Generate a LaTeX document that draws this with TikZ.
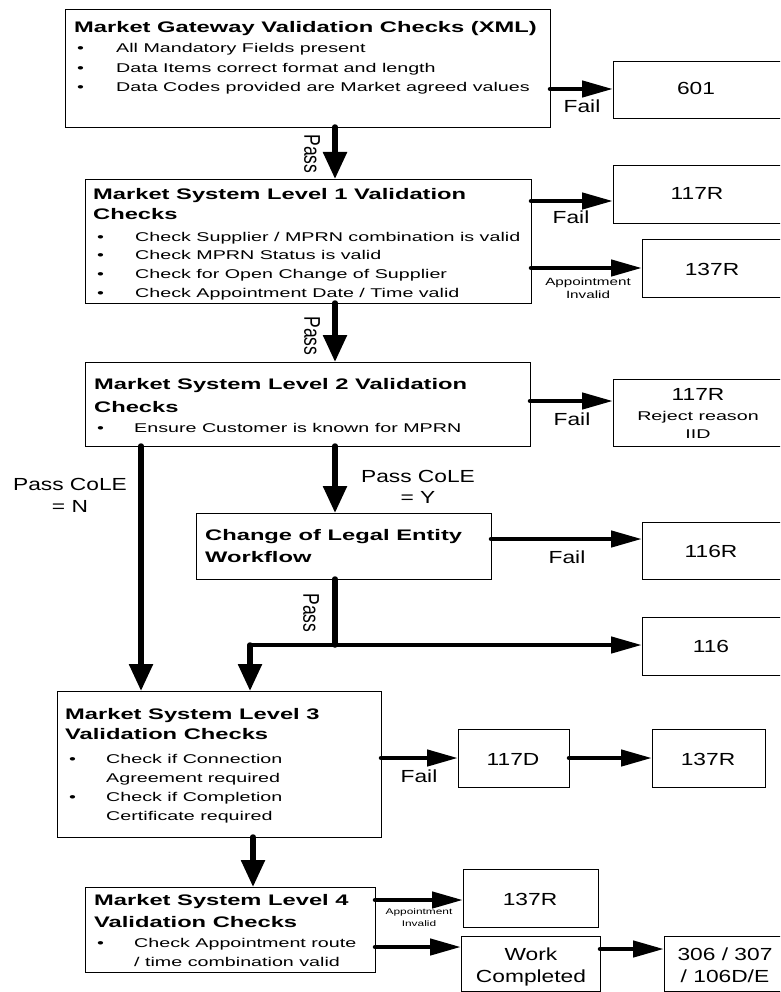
\documentclass[tikz,border=0pt]{standalone}
\usepackage{fontspec}
\setmainfont[FakeStretch=1.55]{Liberation Sans}
\newfontfamily\lblfam[FakeStretch=1.3]{Liberation Sans}
\newfontfamily\smfam[FakeStretch=1.45]{Liberation Sans}
\newfontfamily\rotfam[FakeStretch=0.77]{Liberation Sans}
\usetikzlibrary{arrows.meta}
\tikzset{
  box/.style 2 args={draw=black, line width=0.9pt, inner sep=0pt, outer sep=0pt,
    minimum width=#1pt, minimum height=#2pt, anchor=north west},
  ttl/.style={font=\bfseries\fontsize{15.3}{18}\selectfont, anchor=base west, inner sep=0pt},
  bt/.style={font=\fontsize{12.7}{15}\selectfont, anchor=base west, inner sep=0pt},
  btc/.style={font=\fontsize{12.7}{15}\selectfont, anchor=base, inner sep=0pt},
  lbl/.style={font=\lblfam\fontsize{17.5}{20}\selectfont, anchor=base, inner sep=0pt},
  sm/.style={font=\smfam\fontsize{10.5}{12}\selectfont, anchor=base, inner sep=0pt},
  smm/.style={font=\smfam\fontsize{8.2}{10}\selectfont, anchor=base, inner sep=0pt},
  rlbl/.style={font=\rotfam\fontsize{22.75}{24}\selectfont, rotate=-90, inner sep=0pt},
  ha/.style={line width=4.5pt, line cap=round, -{Triangle[length=31pt,width=16pt]}},
  va/.style={line width=5.5pt, line cap=round, -{Triangle[length=27pt,width=23pt]}},
  vl/.style={line width=5.5pt, line cap=round},
  hl/.style={line width=4.5pt, line cap=round},
}
\begin{document}
\begin{tikzpicture}[x=1pt, y=-1pt]
\useasboundingbox (0,0) rectangle (780,992);
\clip (0,0) rectangle (780,992);

% ---------- boxes ----------
\node[box={485}{118}] (g) at (65,9) {};
\node[box={175}{57}] (b601) at (613,61) {};
\node[box={446}{124}] (l1) at (85,179) {};
\node[box={175}{58}] (b117a) at (613,165) {};
\node[box={146}{58}] (b137a) at (642,239) {};
\node[box={445}{84}] (l2) at (85,362) {};
\node[box={175}{67}] (b117b) at (613,379) {};
\node[box={295}{66}] (cole) at (196,513) {};
\node[box={146}{57}] (b116r) at (642,522) {};
\node[box={146}{58}] (b116) at (642,617) {};
\node[box={324}{146}] (l3) at (57,691) {};
\node[box={111}{58}] (b117d) at (458,729) {};
\node[box={113}{58}] (b137b) at (652,729) {};
\node[box={290}{85}] (l4) at (85,887) {};
\node[box={135}{58}] (b137c) at (463,869) {};
\node[box={139}{55}] (wc) at (461,936) {};
\node[box={126}{55}] (b306) at (664,936) {};

% ---------- box texts ----------
\node[ttl] (gt) at (74,33) {Market Gateway Validation Checks (XML)};
\node[bt] (gd1) at (77,53) {\textbullet};
\node[bt] (gd2) at (77,72.5) {\textbullet};
\node[bt] (gd3) at (77,92) {\textbullet};
\node[bt] (g1) at (116,53) {All Mandatory Fields present};
\node[bt] (g2) at (116,72.5) {Data Items correct format and length};
\node[bt] (g3) at (116,92) {Data Codes provided are Market agreed values};

\node[ttl] (l1t1) at (93,200) {Market System Level 1 Validation};
\node[ttl] (l1t2) at (93,219) {Checks};
\node[bt] (l1d1) at (97,241) {\textbullet};
\node[bt] (l1d2) at (97,259) {\textbullet};
\node[bt] (l1d3) at (97,278) {\textbullet};
\node[bt] (l1d4) at (97,297) {\textbullet};
\node[bt] (l1a) at (135,241) {Check Supplier / MPRN combination is valid};
\node[bt] (l1b) at (135,259) {Check MPRN Status is valid};
\node[bt] (l1c) at (135,278) {Check for Open Change of Supplier};
\node[bt] (l1e) at (135,297) {Check Appointment Date / Time valid};

\node[ttl] (l2t1) at (94,389) {Market System Level 2 Validation};
\node[ttl] (l2t2) at (94,412) {Checks};
\node[bt] (l2d1) at (97,432) {\textbullet};
\node[bt] (l2a) at (134,432) {Ensure Customer is known for MPRN};

\node[ttl] (colet1) at (205,540) {Change of Legal Entity};
\node[ttl] (colet2) at (205,562) {Workflow};

\node[ttl] (l3t1) at (65,719) {Market System Level 3};
\node[ttl] (l3t2) at (65,739) {Validation Checks};
\node[bt] (l3d1) at (69,763) {\textbullet};
\node[bt] (l3d2) at (69,801) {\textbullet};
\node[bt] (l3a) at (106,763) {Check if Connection};
\node[bt] (l3b) at (106,782) {Agreement required};
\node[bt] (l3c) at (106,801) {Check if Completion};
\node[bt] (l3e) at (106,820) {Certificate required};

\node[ttl] (l4t1) at (94,905) {Market System Level 4};
\node[ttl] (l4t2) at (94,927) {Validation Checks};
\node[bt] (l4d1) at (97,947) {\textbullet};
\node[bt] (l4a) at (134,947) {Check Appointment route};
\node[bt] (l4b) at (134,966) {/ time combination valid};

\node[lbl] (t601) at (696,95) {601};
\node[lbl] (t117a) at (697,200) {117R};
\node[lbl] (t137a) at (712,275) {137R};
\node[lbl] (t117b) at (698,400) {117R};
\node[btc] (t117b2) at (698,420) {Reject reason};
\node[btc] (t117b3) at (698,438) {IID};
\node[lbl] (t116r) at (711,557) {116R};
\node[lbl] (t116) at (711,652) {116};
\node[lbl] (t117d) at (513,765) {117D};
\node[lbl] (t137b) at (708,765) {137R};
\node[lbl] (t137c) at (530,905) {137R};
\node[lbl] (twc1) at (531,960) {Work};
\node[lbl] (twc2) at (531,982) {Completed};
\node[lbl] (t3061) at (725,960) {306 / 307};
\node[lbl] (t3062) at (725,982) {/ 106D/E};

% ---------- connectors ----------
\draw[ha] (g.east |- 0,89) -- (b601.west |- 0,89);
\draw[va] (g.south -| 335,0) -- (l1.north -| 335,0);
\draw[ha] (l1.east |- 0,201) -- (b117a.west |- 0,201);
\draw[ha] (l1.east |- 0,268) -- (b137a.west |- 0,268);
\draw[va] (l1.south -| 335,0) -- (l2.north -| 335,0);
\draw[ha] (l2.east |- 0,401) -- (b117b.west |- 0,401);
\draw[va] (l2.south -| 141,0) -- (l3.north -| 141,0);
\draw[va] (l2.south -| 335,0) -- (cole.north -| 335,0);
\draw[ha] (cole.east |- 0,539) -- (b116r.west |- 0,539);
\coordinate (j) at (335,645);
\coordinate (k) at (250,645);
\draw[vl] (cole.south -| j) -- (j);
\draw[ha] (j) -- (b116.west |- j);
\draw[hl] (j) -- (k);
\draw[va] (k) -- (l3.north -| k);
\draw[ha] (l3.east |- b117d) -- (b117d.west);
\draw[ha] (b117d.east) -- (b137b.west);
\draw[va] (l3.south -| 253,0) -- (l4.north -| 253,0);
\draw[ha] (l4.east |- 0,900) -- (b137c.west |- 0,900);
\draw[ha] (l4.east |- 0,947) -- (wc.west |- 0,947);
\draw[ha] (wc.east |- 0,949) -- (b306.west |- 0,949);

% ---------- connector labels ----------
\node[lbl] (f1) at (582,113) {Fail};
\node[rlbl] (p1) at (312,154) {Pass};
\node[lbl] (f2) at (571,223) {Fail};
\node[sm] (ai1) at (588,285) {Appointment};
\node[sm] (ai2) at (588,298) {Invalid};
\node[rlbl] (p2) at (312,336) {Pass};
\node[lbl] (f3) at (572,425) {Fail};
\node[lbl] (pn1) at (70,490) {Pass CoLE};
\node[lbl] (pn2) at (70,512) {= N};
\node[lbl] (py1) at (418,482) {Pass CoLE};
\node[lbl] (py2) at (418,503) {= Y};
\node[lbl] (f4) at (567,563) {Fail};
\node[rlbl] (p3) at (311,613) {Pass};
\node[lbl] (f5) at (419,782) {Fail};
\node[smm] (ai3) at (419,914) {Appointment};
\node[smm] (ai4) at (419,926) {Invalid};
\end{tikzpicture}
\end{document}
